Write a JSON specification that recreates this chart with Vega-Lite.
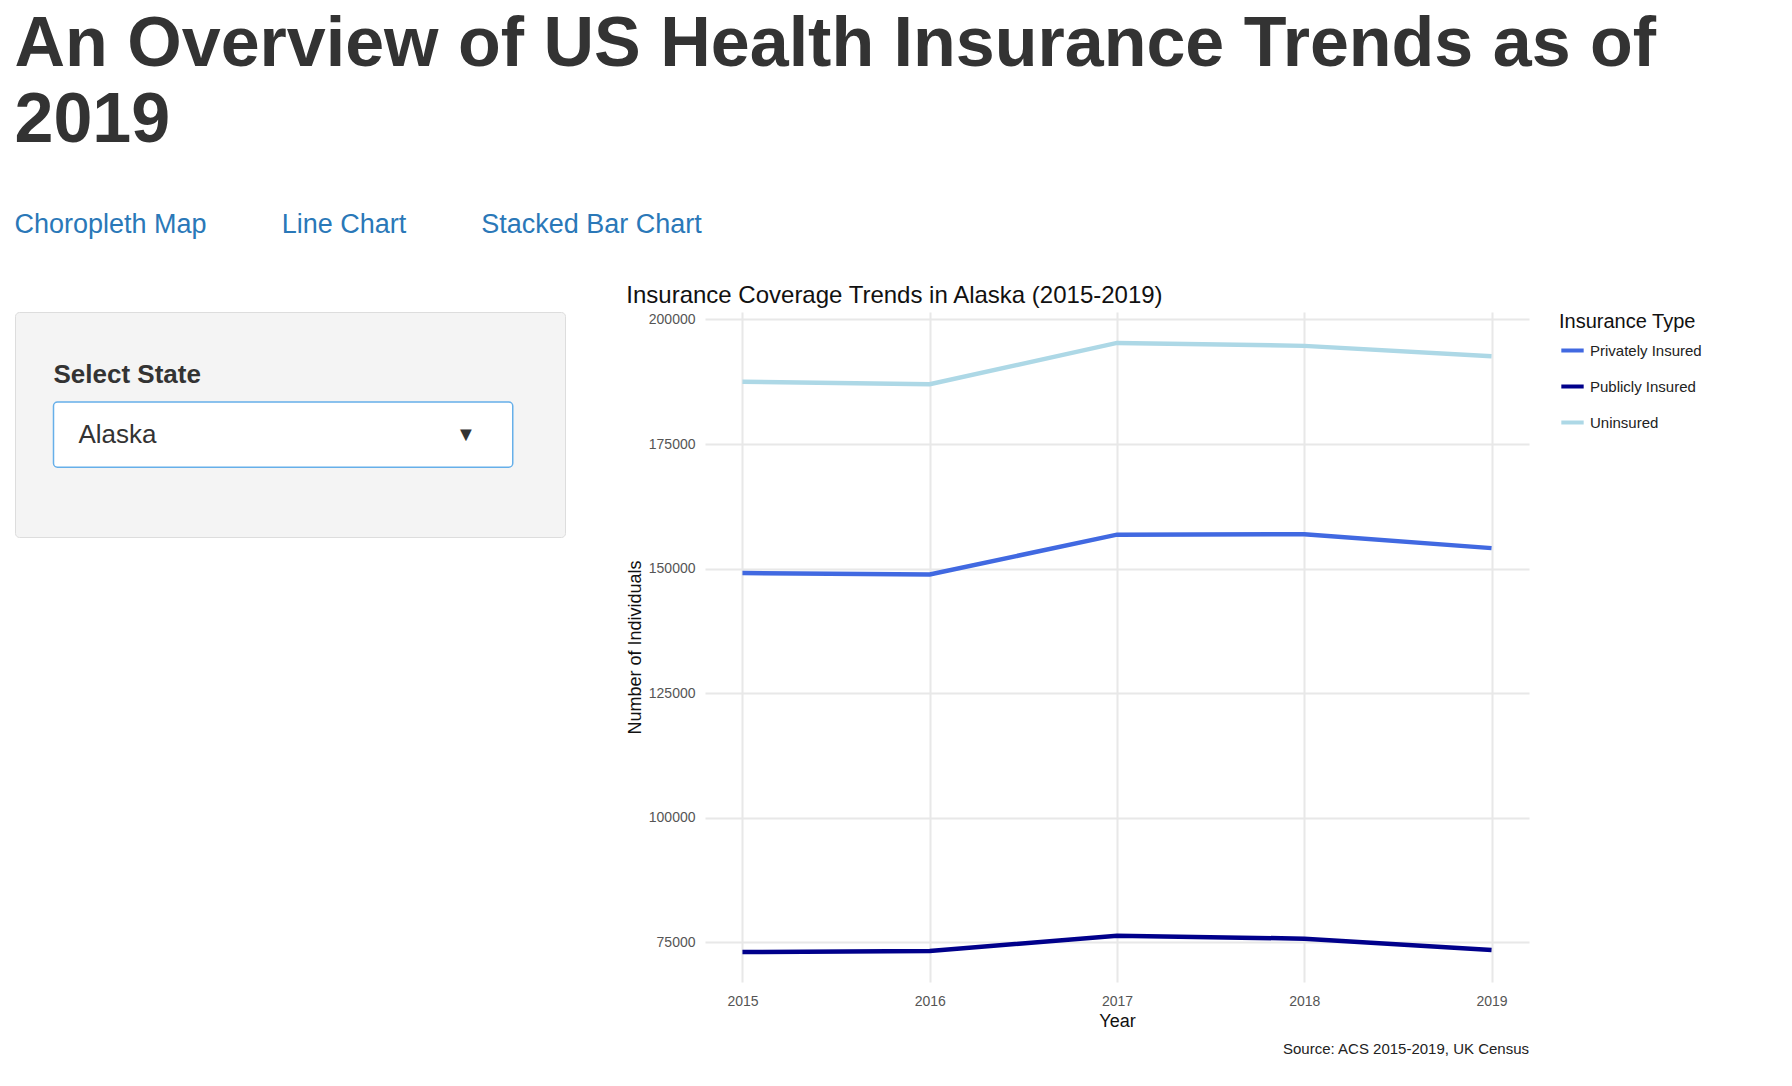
{
  "$schema": "https://vega.github.io/schema/vega-lite/v6.json",
  "background": "white",
  "padding": {"left": 14, "top": 10, "right": 20, "bottom": 10},
  "config": {
    "font": "Liberation Sans",
    "view": {"stroke": null},
    "axis": {"labelColor": "#555", "labelFontSize": 14, "titleFontSize": 18, "titleFontWeight": "normal", "titleColor": "#111", "gridColor": "#e8e8e8", "domain": false, "ticks": false}
  },
  "title": {
    "text": ["An Overview of US Health Insurance Trends as of", "2019"],
    "subtitle": "\u00a0\u00a0\u00a0Choropleth Map\u00a0\u00a0\u00a0\u00a0\u00a0\u00a0\u00a0\u00a0\u00a0\u00a0Line Chart\u00a0\u00a0\u00a0\u00a0\u00a0\u00a0\u00a0\u00a0\u00a0\u00a0Stacked Bar Chart",
    "anchor": "start",
    "fontSize": 70,
    "fontWeight": "bold",
    "color": "#333",
    "lineHeight": 76,
    "subtitleFontSize": 27,
    "subtitleColor": "#2a78b8",
    "subtitlePadding": 55,
    "offset": 45
  },
  "spacing": 60,
  "hconcat": [
    {
      "width": 550,
      "height": 225,
      "view": {"fill": "#f4f4f4", "stroke": "#dddddd", "cornerRadius": 4},
      "data": {"values": [{"x": 0.07, "x2": 0.905, "y": 0.28, "y1": 0.4, "y2": 0.69, "yt": 0.545, "label": "Select State", "state": "Alaska", "arrow": "\u25bc", "xa": 0.82}]},
      "encoding": {
        "x": {"field": "x", "type": "quantitative", "scale": {"domain": [0, 1]}, "axis": null},
        "y": {"field": "y", "type": "quantitative", "scale": {"domain": [0, 1], "reverse": true}, "axis": null}
      },
      "layer": [
        {"mark": {"type": "text", "align": "left", "fontSize": 26, "fontWeight": "bold", "color": "#333"}, "encoding": {"text": {"field": "label"}}},
        {"mark": {"type": "rect", "fill": "white", "stroke": "#66afe9", "strokeWidth": 1.5, "cornerRadius": 4},
         "encoding": {"x2": {"field": "x2"}, "y": {"field": "y1", "type": "quantitative"}, "y2": {"field": "y2"}}},
        {"mark": {"type": "text", "align": "left", "fontSize": 26, "color": "#333", "dx": 25}, "encoding": {"y": {"field": "yt", "type": "quantitative"}, "text": {"field": "state"}}},
        {"mark": {"type": "text", "fontSize": 20, "color": "#333"}, "encoding": {"x": {"field": "xa", "type": "quantitative"}, "y": {"field": "yt", "type": "quantitative"}, "text": {"field": "arrow"}}}
      ]
    },
    {
      "width": 824,
      "height": 670,
      "title": {"text": "Insurance Coverage Trends in Alaska (2015-2019)", "anchor": "start", "fontSize": 24, "fontWeight": "normal", "color": "#111"},
      "data": {
        "values": [
          {"Year": 2015, "Type": "Privately Insured", "Count": 149100},
          {"Year": 2016, "Type": "Privately Insured", "Count": 148800},
          {"Year": 2017, "Type": "Privately Insured", "Count": 156800},
          {"Year": 2018, "Type": "Privately Insured", "Count": 156900},
          {"Year": 2019, "Type": "Privately Insured", "Count": 154100},
          {"Year": 2015, "Type": "Publicly Insured", "Count": 73000},
          {"Year": 2016, "Type": "Publicly Insured", "Count": 73200},
          {"Year": 2017, "Type": "Publicly Insured", "Count": 76300},
          {"Year": 2018, "Type": "Publicly Insured", "Count": 75700},
          {"Year": 2019, "Type": "Publicly Insured", "Count": 73400},
          {"Year": 2015, "Type": "Uninsured", "Count": 187500},
          {"Year": 2016, "Type": "Uninsured", "Count": 187000},
          {"Year": 2017, "Type": "Uninsured", "Count": 195300},
          {"Year": 2018, "Type": "Uninsured", "Count": 194700},
          {"Year": 2019, "Type": "Uninsured", "Count": 192600}
        ]
      },
      "layer": [
        {
          "mark": {"type": "line", "strokeWidth": 4.5},
          "encoding": {
            "x": {"field": "Year", "type": "quantitative", "scale": {"domain": [2014.8, 2019.2], "nice": false, "zero": false}, "axis": {"values": [2015, 2016, 2017, 2018, 2019], "format": "d", "gridWidth": 2, "labelPadding": 12}},
            "y": {"field": "Count", "type": "quantitative", "title": "Number of Individuals", "scale": {"domain": [67000, 201500], "nice": false, "zero": false}, "axis": {"values": [75000, 100000, 125000, 150000, 175000, 200000], "format": "d", "gridWidth": 2, "labelPadding": 10}},
            "color": {
              "field": "Type", "type": "nominal",
              "scale": {"domain": ["Privately Insured", "Publicly Insured", "Uninsured"], "range": ["#4169e1", "#00008b", "#add8e6"]},
              "legend": {"title": "Insurance Type", "orient": "right", "titleFontSize": 20, "titleFontWeight": "normal", "titleColor": "#111", "labelFontSize": 15, "labelColor": "#222", "symbolType": "stroke", "symbolStrokeWidth": 4, "symbolSize": 500, "rowPadding": 14, "offset": 30}
            }
          }
        },
        {
          "data": {"values": [{"Year": 2019.2, "Count": 67000, "note": "Source: ACS 2015-2019, UK Census"}]},
          "mark": {"type": "text", "align": "right", "baseline": "top", "dy": 60, "fontSize": 15, "color": "#222"},
          "encoding": {
            "x": {"field": "Year", "type": "quantitative"},
            "y": {"field": "Count", "type": "quantitative"},
            "text": {"field": "note"}
          }
        }
      ]
    }
  ]
}
